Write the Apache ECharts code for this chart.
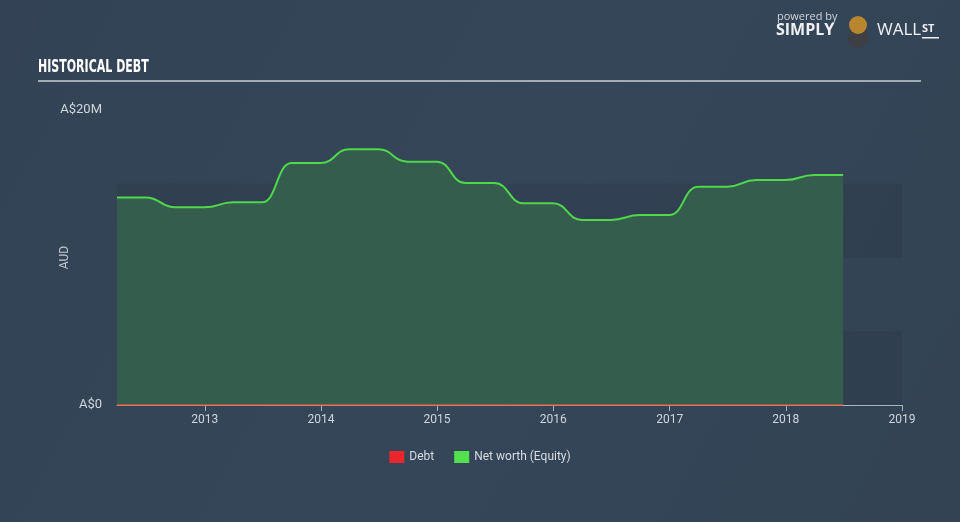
<!DOCTYPE html>
<html><head><meta charset="utf-8">
<script src="https://cdn.jsdelivr.net/npm/echarts@6/dist/echarts.min.js"></script>
<style>html,body{margin:0;padding:0;background:#344456;}#c{width:960px;height:522px;}</style>
</head><body><div id="c"></div>
<script>
const dates = ['2012-03-31','2012-06-30','2012-09-30','2012-12-31','2013-03-31','2013-06-30','2013-09-30','2013-12-31','2014-03-31','2014-06-30','2014-09-30','2014-12-31','2015-03-31','2015-06-30','2015-09-30','2015-12-31','2016-03-31','2016-06-30','2016-09-30','2016-12-31','2017-03-31','2017-06-30','2017-09-30','2017-12-31','2018-03-31','2018-06-30'];
const netWorth = [14.07,14.07,13.4,13.4,13.74,13.74,16.4,16.4,17.34,17.34,16.5,16.5,15.05,15.05,13.67,13.67,12.55,12.55,12.88,12.88,14.8,14.8,15.25,15.25,15.59,15.59];
const debt = [0,0,0,0,0,0,0,0,0,0,0,0,0,0,0,0,0,0,0,0,0,0,0,0,0,0];
const yearTicks = [2013,2014,2015,2016,2017,2018,2019];
const yTickLabels = {0:'A$0', 20:'A$20M'};

function ts(s){const p=s.split('-').map(Number);return Date.UTC(p[0],p[1]-1,p[2]);}
const chart = echarts.init(document.getElementById('c'), null, {renderer:'canvas'});
const yearTs = yearTicks.map(y => Date.UTC(y,0,1));
chart.setOption({
  backgroundColor: {type:'linear',x:0,y:0,x2:1,y2:1,colorStops:[{offset:0,color:'#334355'},{offset:0.5,color:'#354659'},{offset:1,color:'#334354'}]},
  animation:false,
  grid:{left:117,right:58,top:110,bottom:117},
  legend:{
    bottom:54, left:'center', itemWidth:15, itemHeight:12, itemGap:20, icon:'rect',
    textStyle:{color:'#d8dce0',fontSize:12,fontFamily:'Roboto'},
    data:[{name:'Debt',itemStyle:{color:'#e8262b'}},{name:'Net worth (Equity)',itemStyle:{color:'#52e04e'}}]
  },
  xAxis:{
    type:'value', min:ts('2012-03-31'), max:Date.UTC(2019,0,1),
    axisLine:{show:true,lineStyle:{color:'#aab4be',width:1}},
    axisTick:{show:true,length:6,lineStyle:{color:'#aab4be'},customValues:yearTs},
    axisLabel:{color:'#d0d5da',fontSize:12,fontFamily:'Roboto',margin:9,customValues:yearTs,
      formatter:function(v){return String(new Date(v).getUTCFullYear());}},
    splitLine:{show:false}
  },
  yAxis:{
    type:'value', min:0, max:20, interval:5,
    name:'AUD', nameLocation:'middle', nameGap:46, nameRotate:90, nameMoveOverlap:false,
    nameTextStyle:{color:'#c0c7ce',fontSize:12,fontFamily:'Roboto'},
    axisLine:{show:false}, axisTick:{show:false},
    axisLabel:{color:'#d0d5da',fontSize:13,fontFamily:'Roboto',margin:15,
      formatter:function(v){return yTickLabels[v]!==undefined?yTickLabels[v]:'';}},
    splitLine:{show:false},
    splitArea:{show:true,areaStyle:{color:['rgba(20,30,45,0.13)','rgba(0,0,0,0)']}}
  },
  series:[
    {name:'Net worth (Equity)',type:'line',smooth:0.5,smoothMonotone:'x',showSymbol:false,
      data:dates.map((d,i)=>[ts(d),netWorth[i]]),
      lineStyle:{color:'#4fd84a',width:2},
      itemStyle:{color:'#52e04e'},
      areaStyle:{color:'#365f4e',opacity:0.95},z:2},
    {name:'Debt',type:'line',showSymbol:false,
      data:dates.map((d,i)=>[ts(d),debt[i]]),
      lineStyle:{color:'#e0552f',width:1.5},
      itemStyle:{color:'#e8262b'},z:3}
  ],
  graphic:[
    {type:'text',left:38,top:59,scaleX:0.72,style:{text:'HISTORICAL DEBT',fill:'#ffffff',font:'bold 17px "DejaVu Sans Condensed"'}},
    {type:'rect',shape:{x:38,y:80,width:883,height:2},style:{fill:'#a3abb4'}},
    {type:'text',left:777,top:11,style:{text:'powered by',fill:'#d0d4d8',font:'11px "Open Sans"'}},
    {type:'text',left:776,top:22,style:{text:'SIMPLY',fill:'#eef0f2',font:'bold 16px "Open Sans"'}},
    {type:'circle',shape:{cx:858,cy:38,r:10},style:{fill:'#3d3f44'}},
    {type:'circle',shape:{cx:858,cy:25,r:9},style:{fill:'#b8862e'}},
    {type:'text',left:877,top:22,style:{text:'WALL',fill:'#eef0f2',font:'17px "Open Sans"'}},
    {type:'text',left:922,top:23,style:{text:'ST',fill:'#eef0f2',font:'bold 11px "Open Sans"'}},
    {type:'rect',shape:{x:922,y:37,width:17,height:1.5},style:{fill:'#eef0f2'}}
  ]
});
</script></body></html>
